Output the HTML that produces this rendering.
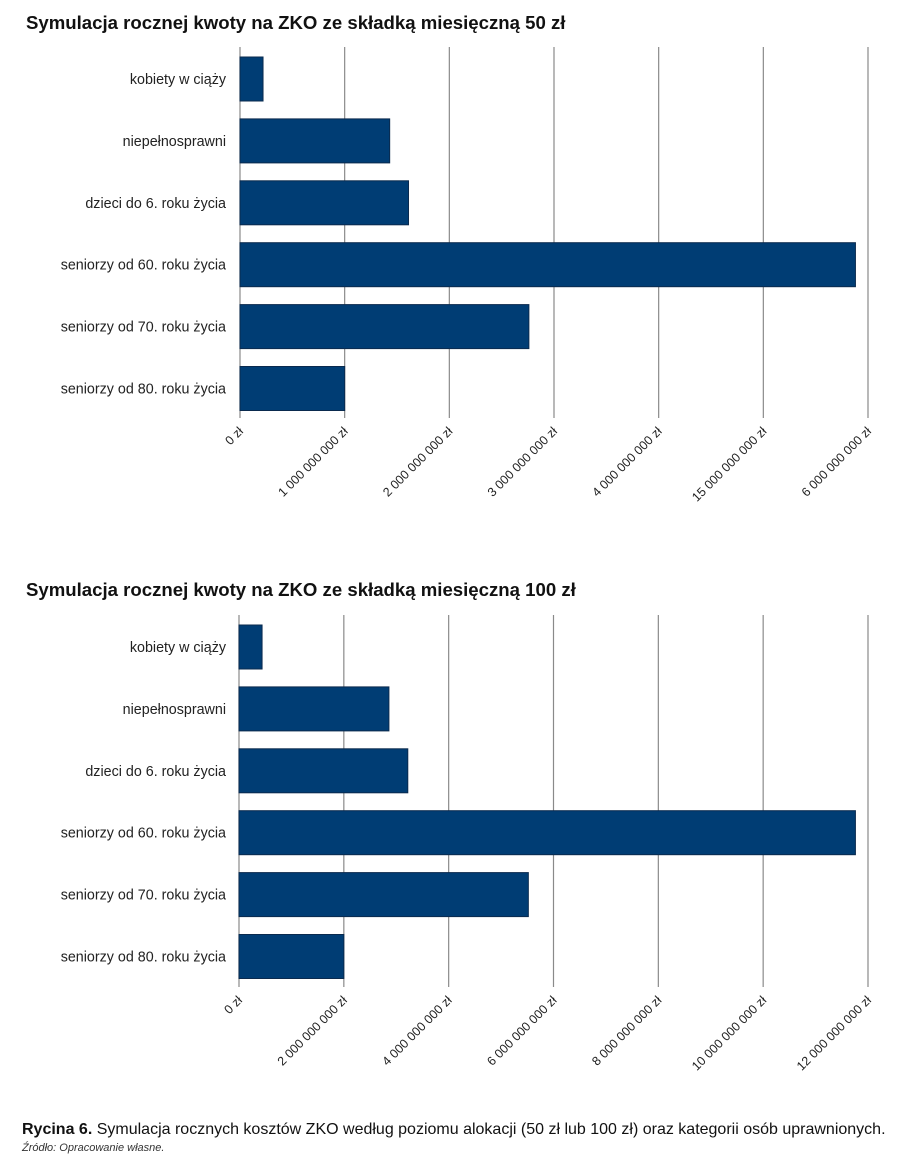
<!DOCTYPE html>
<html><head><meta charset="utf-8"><style>
body{margin:0;background:#fff;width:900px;height:1165px;overflow:hidden;font-family:"Liberation Sans",sans-serif}
svg{position:absolute;left:0;top:0}
</style></head><body>
<svg id="s" width="900" height="1165">
<text x="26" y="29" font-size="18.6" font-weight="bold" fill="#111">Symulacja rocznej kwoty na ZKO ze składką miesięczną 50 zł</text>
<text x="26" y="596" font-size="18.6" font-weight="bold" fill="#111">Symulacja rocznej kwoty na ZKO ze składką miesięczną 100 zł</text>
<text x="22" y="1134" font-size="16" fill="#111"><tspan font-weight="bold">Rycina 6.</tspan> Symulacja rocznych kosztów ZKO według poziomu alokacji (50 zł lub 100 zł) oraz kategorii osób uprawnionych.</text>
<text x="22" y="1151" font-size="11" font-style="italic" fill="#333">Źródło: Opracowanie własne.</text>
</svg>
<script>
const categories=["kobiety w ciąży","niepełnosprawni","dzieci do 6. roku życia","seniorzy od 60. roku życia","seniorzy od 70. roku życia","seniorzy od 80. roku życia"];
const values50=[0.22,1.43,1.61,5.88,2.76,1.0];
const ticks50=["0 zł","1 000 000 000 zł","2 000 000 000 zł","3 000 000 000 zł","4 000 000 000 zł","15 000 000 000 zł","6 000 000 000 zł"];
const max50=6;
const values100=[0.44,2.86,3.22,11.76,5.52,2.0];
const ticks100=["0 zł","2 000 000 000 zł","4 000 000 000 zł","6 000 000 000 zł","8 000 000 000 zł","10 000 000 000 zł","12 000 000 000 zł"];
const max100=12;
const NS="http://www.w3.org/2000/svg";
const svg=document.getElementById("s");
function mk(t,a){const e=document.createElementNS(NS,t);for(const k in a)e.setAttribute(k,a[k]);svg.appendChild(e);return e;}
function chart(vals,ticks,max,x0,x1,gTop,gBot,barTop,id){
  const xs=v=>x0+(x1-x0)*v/max;
  ticks.forEach((t,i)=>{
    const x=x0+(x1-x0)*i/(ticks.length-1);
    const l=mk("line",{x1:x,x2:x,y1:gTop,y2:gBot,stroke:"#8a8a8a","stroke-width":1.2});
    
    
    const tx=mk("text",{x:x+4,y:gBot+14,"font-size":12.5,"text-anchor":"end",fill:"#222",transform:`rotate(-45 ${x+4} ${gBot+14})`});
    tx.textContent=t;
    
    
  });
  vals.forEach((v,i)=>{
    const y=barTop+i*61.9;
    const r=mk("rect",{x:x0,y:y,width:xs(v)-x0,height:44,fill:"#003d74",stroke:"#0a2a4e","stroke-width":1});
    
    
    const t=mk("text",{x:226,y:y+27,"font-size":14.3,"text-anchor":"end",fill:"#222"});
    t.textContent=categories[i];
    
    
  });
}
chart(values50,ticks50,max50,240,868,47,418,57,"c1");
chart(values100,ticks100,max100,239,868,615,987,625,"c2");
</script>
</body></html>
